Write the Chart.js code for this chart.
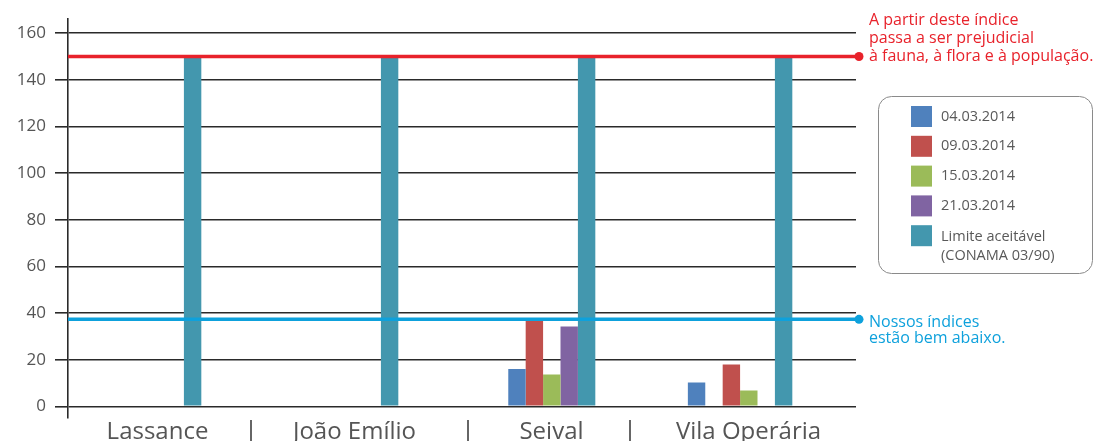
<!DOCTYPE html>
<html>
<head>
<meta charset="utf-8">
<script src="https://cdn.jsdelivr.net/npm/chart.js@4/dist/chart.umd.min.js"></script>
<style>
  html, body { margin: 0; padding: 0; background: #fff; }
  #wrap { width: 1098px; height: 441px; position: relative; }
</style>
</head>
<body>
<div id="wrap"><canvas id="chart"></canvas></div>
<script>
// ---------------------------------------------------------------------------
// Data
// ---------------------------------------------------------------------------
const categories = ['Lassance', 'João Emílio', 'Seival', 'Vila Operária'];
const serie0403 = [null, null, 16, 10.2];
const serie0903 = [null, null, 36.7, 17.9];
const serie1503 = [null, null, 13.6, 6.8];
const serie2103 = [null, null, 34.2, null];
const limiteAceitavel = [150, 150, 150, 150];
const yTicks = [0, 20, 40, 60, 80, 100, 120, 140, 160];

const limiteNocivo = 150;   // red reference line
const nossoIndice = 37.3;   // blue reference line

// categories where the 04.03 bar sits one slot further left in the original
const deslocado0403 = ['Vila Operária'];

const legendLabels = ['04.03.2014', '09.03.2014', '15.03.2014', '21.03.2014',
                      ['Limite aceitável', '(CONAMA 03/90)']];
const textoNocivo = ['A partir deste índice', 'passa a ser prejudicial', 'à fauna, à flora e à população.'];
const textoIndice = ['Nossos índices', 'estão bem abaixo.'];

// ---------------------------------------------------------------------------
// Styles
// ---------------------------------------------------------------------------
const COLORS = ['#4f81bd', '#c0504d', '#9bbb59', '#8064a2', '#4397ae'];
const RED = '#e8222b';
const BLUE = '#0ea1dc';
const TEXT = '#555555';
const GRID = '#2a2a2a';
const FONT = "'Open Sans', 'Noto Sans', sans-serif";
const X_FONT_SIZE = 24;
const X_LABEL_SHIFT = -9;

function isShifted(i) { return deslocado0403.indexOf(categories[i]) !== -1; }
const blueShifted = serie0403.map(function (v, i) { return isShifted(i) ? v : null; });
const blueMain = serie0403.map(function (v, i) { return isShifted(i) ? null : v; });
const empty = categories.map(function () { return null; });

function ds(data, color) {
  return { data: data, backgroundColor: color, borderWidth: 0 };
}

// ---------------------------------------------------------------------------
// Extras: reference lines, notes, separators, legend box
// ---------------------------------------------------------------------------
const extras = {
  id: 'extras',
  afterDatasetsDraw: function (chart) {
    const ctx = chart.ctx;
    const a = chart.chartArea;
    const y = chart.scales.y;
    const dotX = a.right + 3;

    function refLine(value, color, lines, firstOffset, lineH) {
      const py = y.getPixelForValue(value);
      ctx.save();
      ctx.strokeStyle = color;
      ctx.lineWidth = 3.5;
      ctx.beginPath();
      ctx.moveTo(a.left, py);
      ctx.lineTo(dotX, py);
      ctx.stroke();
      ctx.fillStyle = color;
      ctx.beginPath();
      ctx.arc(dotX, py, 4.5, 0, Math.PI * 2);
      ctx.fill();
      ctx.font = '16px ' + FONT;
      ctx.textBaseline = 'middle';
      ctx.textAlign = 'left';
      lines.forEach(function (t, i) {
        ctx.fillText(t, dotX + 10, py + firstOffset + i * lineH);
      });
      ctx.restore();
    }

    refLine(limiteNocivo, RED, textoNocivo, -36, 18);
    refLine(nossoIndice, BLUE, textoIndice, 3, 16);
  },
  afterDraw: function (chart) {
    const ctx = chart.ctx;
    const x = chart.scales.x;

    // separators between category labels
    ctx.save();
    ctx.font = X_FONT_SIZE + 'px ' + FONT;
    const half = categories.map(function (c) { return ctx.measureText(c).width / 2; });
    ctx.strokeStyle = '#666';
    ctx.lineWidth = 2;
    for (let i = 0; i < categories.length - 1; i++) {
      const r = x.getPixelForValue(i) + X_LABEL_SHIFT + half[i];
      const l = x.getPixelForValue(i + 1) + X_LABEL_SHIFT - half[i + 1];
      const sx = Math.round((r + l) / 2);
      ctx.beginPath();
      ctx.moveTo(sx, 420);
      ctx.lineTo(sx, 441);
      ctx.stroke();
    }
    ctx.restore();

    // legend
    const bx = 878, by = 96, bw = 214, bh = 177;
    ctx.save();
    ctx.strokeStyle = '#8a8a8a';
    ctx.lineWidth = 1;
    ctx.beginPath();
    ctx.roundRect(bx + 0.5, by + 0.5, bw, bh, 13);
    ctx.stroke();
    ctx.font = '14.5px ' + FONT;
    ctx.textBaseline = 'middle';
    legendLabels.forEach(function (lab, i) {
      const ry = by + 10 + i * 29.8;
      ctx.fillStyle = COLORS[i];
      ctx.fillRect(bx + 33, ry, 21, 21);
      ctx.fillStyle = '#595959';
      const lines = Array.isArray(lab) ? lab : [lab];
      lines.forEach(function (t, j) {
        ctx.fillText(t, bx + 63, ry + (lines.length > 1 ? 11.5 : 10.5) + j * 19);
      });
    });
    ctx.restore();
  }
};

// ---------------------------------------------------------------------------
// Chart
// ---------------------------------------------------------------------------
new Chart(document.getElementById('chart'), {
  type: 'bar',
  data: {
    labels: categories,
    datasets: [
      ds(blueShifted, COLORS[0]),
      ds(blueMain, COLORS[0]),
      ds(serie0903, COLORS[1]),
      ds(serie1503, COLORS[2]),
      ds(serie2103, COLORS[3]),
      ds(limiteAceitavel, COLORS[4]),
      ds(empty, 'transparent'),
      ds(empty, 'transparent')
    ]
  },
  options: {
    responsive: true,
    maintainAspectRatio: false,
    animation: false,
    datasets: { bar: { categoryPercentage: 0.707, barPercentage: 1 } },
    layout: { padding: { left: 0, right: 242, top: 17, bottom: 0 } },
    plugins: { legend: { display: false }, tooltip: { enabled: false } },
    scales: {
      x: {
        grid: { display: false, drawTicks: false },
        border: { display: false },
        ticks: { color: TEXT, font: { family: FONT, size: X_FONT_SIZE }, padding: 0,
                 maxRotation: 0, labelOffset: X_LABEL_SHIFT },
        afterFit: function (s) { s.height = 23; }
      },
      y: {
        min: -5,
        max: 166,
        afterBuildTicks: function (s) { s.ticks = yTicks.map(function (v) { return { value: v }; }); },
        afterFit: function (s) { s.width = 68; },
        grid: { color: GRID, lineWidth: 1.6, drawTicks: true, tickLength: 13 },
        border: { display: true, color: GRID, width: 1.6 },
        ticks: { color: TEXT, font: { family: FONT, size: 17 }, padding: 9 }
      }
    }
  },
  plugins: [extras]
});
</script>
</body>
</html>
